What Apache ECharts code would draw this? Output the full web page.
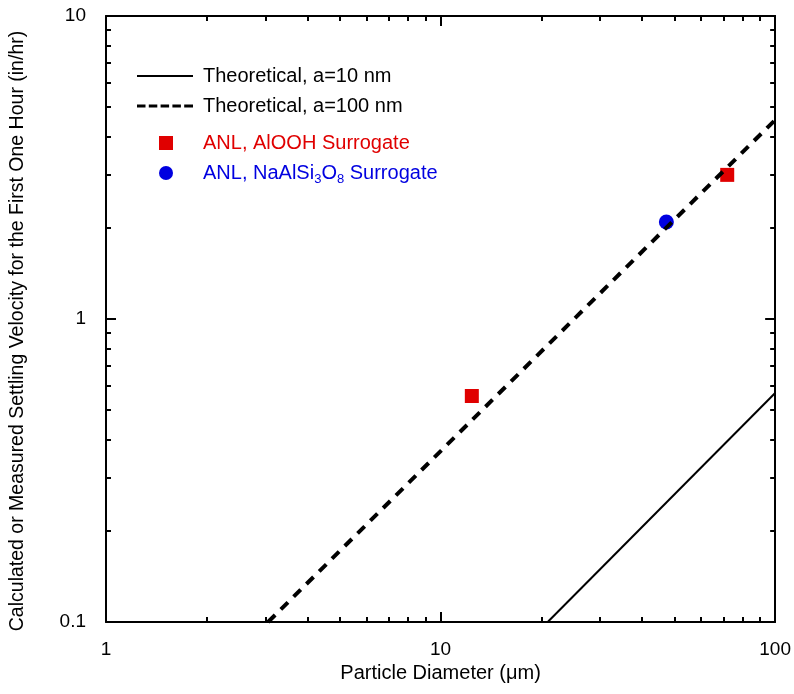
<!DOCTYPE html>
<html>
<head>
<meta charset="utf-8">
<script src="https://cdn.jsdelivr.net/npm/echarts@6/dist/echarts.min.js"></script>
<style>html,body{margin:0;padding:0;background:#fff}#c{width:794px;height:694px}</style>
</head>
<body>
<div id="c"></div>
<script>
// ---- data ----
var lineNames = ['Theoretical, a=10 nm', 'Theoretical, a=100 nm'];
var theory10 = [[20.9, 0.1], [100, 0.57]];
var theory100 = [[3.05, 0.1], [100, 4.54]];
var aloohName = 'ANL, AlOOH Surrogate';
var aloohData = [[12.4, 0.557], [71.9, 2.99]];
var naName = 'ANL, NaAlSi3O8 Surrogate';
var naData = [[47.3, 2.09]];
var xMajor = [1, 10, 100];
var xMinor = [2, 3, 4, 5, 6, 7, 8, 9, 20, 30, 40, 50, 60, 70, 80, 90];
var yMajor = [0.1, 1, 10];
var yMinor = [0.2, 0.3, 0.4, 0.5, 0.6, 0.7, 0.8, 0.9, 2, 3, 4, 5, 6, 7, 8, 9];
var xTitle = 'Particle Diameter (\u03bcm)';
var yTitle = 'Calculated or Measured Settling Velocity for the First One Hour (in/hr)';

var FONT = 'Liberation Sans, Arial, sans-serif';
var FS = 20, TFS = 19, YFS = 19.5;
var RED = '#e00000', BLUE = '#0000e0';

var solidIcon = 'path://M0,0h56v2h-56z';
var dashIcon = 'path://M0,0h8.5v3h-8.5z M11.8,0h8.5v3h-8.5z M23.6,0h8.5v3h-8.5z M35.4,0h8.5v3h-8.5z M47.2,0h8.8v3h-8.8z';

function tickAxis(pos, min, max, values, len, show) {
  return {
    type: 'log', logBase: 10, position: pos, min: min, max: max,
    axisLine: { show: show, lineStyle: { color: '#000', width: 2 } },
    axisTick: { show: true, inside: true, length: len, customValues: values, lineStyle: { color: '#000', width: 2 } },
    axisLabel: { show: false },
    splitLine: { show: false }
  };
}

var xMain = {
  type: 'log', logBase: 10, position: 'bottom', min: 1, max: 100,
  name: xTitle, nameLocation: 'middle', nameGap: 40,
  nameTextStyle: { fontFamily: FONT, fontSize: FS, color: '#000' },
  axisLine: { show: true, lineStyle: { color: '#000', width: 2 } },
  axisTick: { show: true, inside: true, length: 10, customValues: xMajor, lineStyle: { color: '#000', width: 2 } },
  axisLabel: { show: true, customValues: xMajor, margin: 18, fontFamily: FONT, fontSize: TFS, color: '#000',
    formatter: function (v) { return String(v); } },
  splitLine: { show: false }
};
var yMain = {
  type: 'log', logBase: 10, position: 'left', min: 0.1, max: 10,
  name: yTitle, nameLocation: 'middle', nameGap: 78, nameRotate: 90,
  nameTextStyle: { fontFamily: FONT, fontSize: YFS, color: '#000', padding: [0, 24, 0, 0] },
  axisLine: { show: true, lineStyle: { color: '#000', width: 2 } },
  axisTick: { show: true, inside: true, length: 10, customValues: yMajor, lineStyle: { color: '#000', width: 2 } },
  axisLabel: { show: true, customValues: yMajor, margin: 20, fontFamily: FONT, fontSize: TFS, color: '#000',
    formatter: function (v) { return String(v); } },
  splitLine: { show: false }
};

var option = {
  animation: false,
  backgroundColor: '#fff',
  grid: { left: 106, right: 18, top: 16, bottom: 72, containLabel: false },
  xAxis: [
    xMain,
    tickAxis('bottom', 1, 100, xMinor, 5, false),
    tickAxis('top', 1, 100, xMajor, 10, true),
    tickAxis('top', 1, 100, xMinor, 5, false)
  ],
  yAxis: [
    yMain,
    tickAxis('left', 0.1, 10, yMinor, 5, false),
    tickAxis('right', 0.1, 10, yMajor, 10, true),
    tickAxis('right', 0.1, 10, yMinor, 5, false)
  ],
  legend: [
    {
      orient: 'vertical', left: 137, top: 66, padding: 0, itemGap: 10,
      itemWidth: 56, itemHeight: 3, selectedMode: false, symbolKeepAspect: true,
      textStyle: { fontFamily: FONT, fontSize: FS, color: '#000', lineHeight: 20, padding: [0, 0, 0, 5] },
      data: [
        { name: lineNames[0], icon: solidIcon },
        { name: lineNames[1], icon: dashIcon }
      ]
    },
    {
      orient: 'vertical', left: 159, top: 130, padding: 0, itemGap: 4,
      itemWidth: 14, itemHeight: 14, selectedMode: false,
      textStyle: { fontFamily: FONT, fontSize: FS, lineHeight: 26, padding: [0, 0, 0, 25],
        rich: { sub: { fontFamily: FONT, fontSize: 13, lineHeight: 1, color: BLUE, verticalAlign: 'bottom' } } },
      formatter: function (name) {
        return name === naName ? 'ANL, NaAlSi{sub|3}O{sub|8} Surrogate' : name;
      },
      data: [
        { name: aloohName, icon: 'rect', textStyle: { color: RED } },
        { name: naName, icon: 'circle', textStyle: { color: BLUE } }
      ]
    }
  ],
  series: [
    { name: lineNames[0], type: 'line', data: theory10, symbol: 'none', clip: true,
      lineStyle: { color: '#000', width: 2 }, itemStyle: { color: '#000' } },
    { name: lineNames[1], type: 'line', data: theory100, symbol: 'none', clip: true,
      lineStyle: { color: '#000', width: 4, type: [10, 8] }, itemStyle: { color: '#000' } },
    { name: aloohName, type: 'scatter', data: aloohData, symbol: 'rect', symbolSize: 14,
      itemStyle: { color: RED, opacity: 1 } },
    { name: naName, type: 'scatter', data: naData, symbol: 'circle', symbolSize: 15,
      itemStyle: { color: BLUE, opacity: 1 } }
  ]
};
var chart = echarts.init(document.getElementById('c'), null, { renderer: 'canvas' });
chart.setOption(option);
</script>
</body>
</html>
